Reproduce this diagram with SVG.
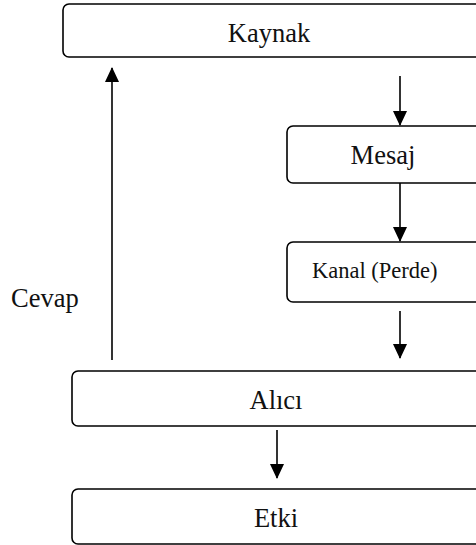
<svg xmlns="http://www.w3.org/2000/svg" width="476" height="545" viewBox="0 0 476 545">
<defs>
<marker id="ah" markerWidth="15" markerHeight="14" refX="14" refY="7" orient="auto" markerUnits="userSpaceOnUse">
<path d="M0,0 L15,7 L0,14 Z" fill="#000"/>
</marker>
<style>
.box{fill:#fff;stroke:#000;stroke-width:1.6}
.t{font-family:"Liberation Serif",serif;fill:#111;font-size:26.5px}
.c{stroke:#000;stroke-width:1.6;fill:none}
</style>
</defs>
<rect width="476" height="545" fill="#fff"/>
<g id="connectors">
<line class="c" x1="400" y1="76" x2="400" y2="125" marker-end="url(#ah)"/>
<line class="c" x1="400" y1="183" x2="400" y2="241" marker-end="url(#ah)"/>
<line class="c" x1="400" y1="311" x2="400" y2="358" marker-end="url(#ah)"/>
<line class="c" x1="277" y1="430" x2="277" y2="478" marker-end="url(#ah)"/>
<line class="c" x1="112" y1="360" x2="112" y2="68" marker-end="url(#ah)"/>
<text class="t" x="11" y="307">Cevap</text>
</g>
<g id="kaynak">
<rect class="box" x="63" y="4" width="420" height="53" rx="6"/>
<text class="t" x="269" y="42" text-anchor="middle">Kaynak</text>
</g>
<g id="mesaj">
<rect class="box" x="287" y="126" width="196" height="57" rx="6"/>
<text class="t" x="383" y="164" text-anchor="middle">Mesaj</text>
</g>
<g id="kanal">
<rect class="box" x="287" y="242" width="196" height="60" rx="6"/>
<text class="t" x="312" y="278" style="font-size:22.5px">Kanal (Perde)</text>
</g>
<g id="alici">
<rect class="box" x="72" y="371" width="411" height="55" rx="6"/>
<text class="t" x="276" y="409" text-anchor="middle">Alıcı</text>
</g>
<g id="etki">
<rect class="box" x="72" y="489" width="411" height="55" rx="6"/>
<text class="t" x="276" y="527" text-anchor="middle">Etki</text>
</g>
</svg>
